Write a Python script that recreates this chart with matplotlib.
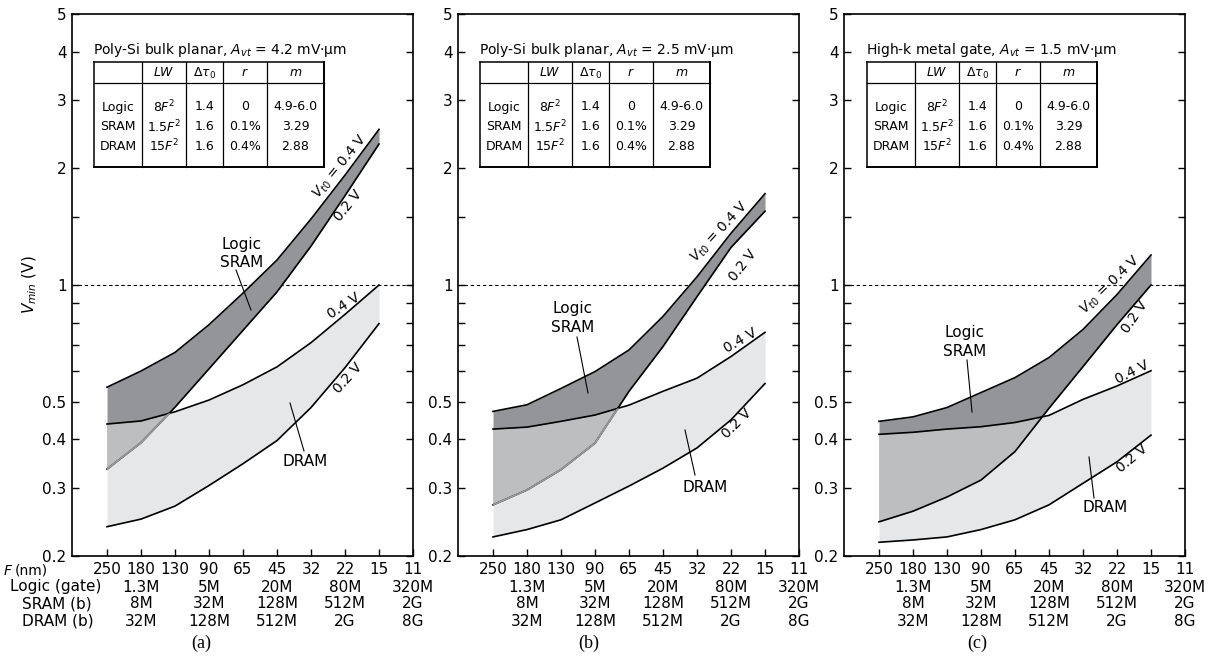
import numpy as np
import matplotlib
matplotlib.use("Agg")
import matplotlib.pyplot as plt
import matplotlib.transforms as mtransforms
from matplotlib.lines import Line2D
from matplotlib.ticker import FixedLocator, NullFormatter

W, H = 1208, 667

# x axis: feature size and the gate / bit counts printed under it
feature_nm = ["250", "180", "130", "90", "65", "45", "32", "22", "15", "11"]
logic_gates = ["1.3M", "5M", "20M", "80M", "320M"]
sram_bits = ["8M", "32M", "128M", "512M", "2G"]
dram_bits = ["32M", "128M", "512M", "2G", "8G"]
count_pos = [1, 3, 5, 7, 9]
curve_pos = [0, 1, 2, 3, 4, 5, 6, 7, 8]   # 250 nm ... 15 nm

# Vmin (V), Vt0 = 0.4 V and 0.2 V edges of each band
# (a) poly-Si bulk planar, Avt = 4.2
a_logic_04 = [0.545, 0.600, 0.670, 0.790, 0.953, 1.16, 1.48, 1.92, 2.52]
a_logic_02 = [0.335, 0.392, 0.484, 0.608, 0.764, 0.960, 1.26, 1.70, 2.31]
a_dram_04 = [0.438, 0.446, 0.471, 0.505, 0.553, 0.615, 0.710, 0.840, 1.00]
a_dram_02 = [0.238, 0.249, 0.269, 0.304, 0.346, 0.397, 0.483, 0.612, 0.795]
# (b) poly-Si bulk planar, Avt = 2.5
b_logic_04 = [0.472, 0.491, 0.541, 0.598, 0.680, 0.830, 1.05, 1.36, 1.72]
b_logic_02 = [0.271, 0.296, 0.334, 0.391, 0.532, 0.694, 0.933, 1.25, 1.55]
b_dram_04 = [0.425, 0.430, 0.445, 0.462, 0.490, 0.532, 0.575, 0.654, 0.755]
b_dram_02 = [0.224, 0.234, 0.248, 0.274, 0.303, 0.337, 0.380, 0.449, 0.557]
# (c) high-k metal gate, Avt = 1.5
c_logic_04 = [0.445, 0.457, 0.483, 0.528, 0.577, 0.650, 0.768, 0.945, 1.195]
c_logic_02 = [0.245, 0.261, 0.284, 0.314, 0.372, 0.481, 0.616, 0.790, 1.00]
c_dram_04 = [0.412, 0.417, 0.425, 0.431, 0.442, 0.461, 0.507, 0.549, 0.601]
c_dram_02 = [0.217, 0.220, 0.224, 0.234, 0.248, 0.271, 0.308, 0.350, 0.410]

# table contents
tbl_header = ["", "$LW$", r"$\Delta\tau_0$", "$r$", "$m$"]
tbl_rows = [["Logic", "8$F^2$", "1.4", "0", "4.9-6.0"],
            ["SRAM", "1.5$F^2$", "1.6", "0.1%", "3.29"],
            ["DRAM", "15$F^2$", "1.6", "0.4%", "2.88"]]
titles = ["Poly-Si bulk planar, $A_{vt}$ = 4.2 mV\u00b7\u03bcm",
          "Poly-Si bulk planar, $A_{vt}$ = 2.5 mV\u00b7\u03bcm",
          "High-k metal gate, $A_{vt}$ = 1.5 mV\u00b7\u03bcm"]
captions = ["(a)", "(b)", "(c)"]

DARK = "#939598"
MID = "#bcbec0"
LIGHT = "#e6e7e8"
GREY = "#9a9a9a"
LW = 1.2

fig = plt.figure(figsize=(W / 100, H / 100), dpi=100)


def fx(x):
    return x / W


def fy(y):
    return 1 - y / H


def fline(x1, y1, x2, y2, lw=0.8):
    fig.add_artist(Line2D([fx(x1), fx(x2)], [fy(y1), fy(y2)],
                          transform=fig.transFigure, color="k", lw=lw))


def ftext(x, y, s, **kw):
    kw.setdefault("ha", "center")
    fig.text(fx(x), fy(y), s, va="center", **kw)


def draw_panel(ax, l04, l02, d04, d02, grey_overlap):
    x = np.array(curve_pos, float)
    l04, l02, d04, d02 = map(np.array, (l04, l02, d04, d02))
    ax.axhline(1.0, color="k", lw=0.8, ls=(0, (3, 2.5)), zorder=0.5)
    ax.fill_between(x, d02, d04, color=LIGHT, lw=0, zorder=1)
    ax.fill_between(x, l02, l04, color=DARK, lw=0, zorder=1.1)
    ax.fill_between(x, l02, d04, where=l02 < d04, interpolate=True,
                    color=MID, lw=0, zorder=1.2)
    for v in (l04, d04, d02, l02):
        ax.plot(x, v, color="k", lw=LW, zorder=2)
    if grey_overlap:
        clip = ax.fill_between(x, 0.05, d04, color="none", lw=0)
        g, = ax.plot(x, l02, color=GREY, lw=LW + 0.1, zorder=2.1)
        g.set_clip_path(clip.get_paths()[0], ax.transData)

    ax.set_yscale("log")
    ax.set_ylim(0.2, 5)
    ax.set_xlim(-1.03, 9)
    ax.yaxis.set_major_locator(FixedLocator([0.2, 0.3, 0.4, 0.5, 1, 2, 3, 4, 5]))
    ax.set_yticklabels(["0.2", "0.3", "0.4", "0.5", "1", "2", "3", "4", "5"])
    ax.yaxis.set_minor_locator(FixedLocator([0.6, 0.7, 0.8, 0.9, 1.5]))
    ax.yaxis.set_minor_formatter(NullFormatter())
    ax.set_xticks(range(len(feature_nm)))
    ax.set_xticklabels(feature_nm)
    ax.tick_params(which="both", direction="in", length=5, width=1.0,
                   labelsize=11, pad=4, right=True, top=False)
    for sp in ax.spines.values():
        sp.set_linewidth(1.2)

    trans = mtransforms.blended_transform_factory(ax.transData, fig.transFigure)
    for row, ypx in ((logic_gates, 587), (sram_bits, 604), (dram_bits, 621)):
        for p, s in zip(count_pos, row):
            ax.text(p, fy(ypx), s, transform=trans, ha="center", va="center",
                    fontsize=11, clip_on=False)


def draw_table(x0, title):
    cols = [0, 48, 92, 129, 173, 230]
    top, mid, bot = 62, 83, 167
    fig.text(fx(x0 - 1), fy(50), title, ha="left", va="center", fontsize=10)
    xs = [x0 + c for c in cols]
    # frame
    fline(xs[0], top, xs[-1], top, 1.1)
    fline(xs[0], bot, xs[-1], bot, 1.4)
    fline(xs[0], top, xs[0], bot, 1.1)
    fline(xs[-1], top, xs[-1], bot, 1.4)
    fline(xs[0], mid, xs[-1], mid, 0.9)
    for xv in xs[1:-1]:
        fline(xv, top, xv, bot, 0.9)
    centers = [(xs[i] + xs[i + 1]) / 2 for i in range(len(xs) - 1)]
    for c, s in zip(centers, tbl_header):
        if s:
            ftext(c, 73, s, fontsize=9)
    for ry, row in zip((107, 127, 146), tbl_rows):
        for c, s in zip(centers, row):
            ftext(c, ry, s, fontsize=9)


panels = [
    (72, 94, (a_logic_04, a_logic_02, a_dram_04, a_dram_02), True),
    (458, 480, (b_logic_04, b_logic_02, b_dram_04, b_dram_02), True),
    (844, 867, (c_logic_04, c_logic_02, c_dram_04, c_dram_02), False),
]
axes = []
for i, (left, tx, series, grey) in enumerate(panels):
    ax = fig.add_axes([fx(left), fy(556), 341 / W, 542 / H])
    draw_panel(ax, *series, grey_overlap=grey)
    draw_table(tx, titles[i])
    axes.append(ax)

axes[0].set_ylabel("$V_{min}$ (V)", fontsize=11, labelpad=2)

# row titles under panel (a)
ftext(12, 571, "F", fontsize=10, style="italic", ha="right")
ftext(15, 571, "(nm)", fontsize=10, ha="left")
ftext(56, 587, "Logic (gate)", fontsize=11)
ftext(57, 604, "SRAM (b)", fontsize=11)
ftext(58, 621, "DRAM (b)", fontsize=11)

for cx, s in zip((201, 589, 977), captions):
    ftext(cx, 643, s, fontsize=13, family="Liberation Serif")

# curve labels: (x, y, text, rotation)
curve_labels = [
    (340, 166, "$V_{t0}$ = 0.4 V", 51), (348, 206, "0.2 V", 51),
    (344, 306, "0.4 V", 33), (348, 378, "0.2 V", 48),
    (720, 232, "$V_{t0}$ = 0.4 V", 47), (743, 265, "0.2 V", 52),
    (740, 341, "0.4 V", 30), (737, 424, "0.2 V", 45),
    (1110, 285, "$V_{t0}$ = 0.4 V", 44), (1135, 317, "0.2 V", 56),
    (1132, 372, "0.4 V", 27), (1132, 458, "0.2 V", 40),
]
for x, y, s, r in curve_labels:
    ftext(x, y, s, fontsize=10, rotation=r, rotation_mode="anchor")

# band names with leader lines
for (lx, ly), (x1, y1, x2, y2) in (((242, 244), (236, 270, 251, 310)),
                                    ((573, 308), (577, 337, 588, 393)),
                                    ((965, 333), (967, 360, 972, 412))):
    ftext(lx, ly, "Logic", fontsize=11)
    ftext(lx, ly + 19, "SRAM", fontsize=11)
    fline(x1, y1, x2, y2)
for (lx, ly), (x1, y1, x2, y2) in (((305, 461), (290, 403, 304, 451)),
                                    ((705, 487), (685, 430, 695, 475)),
                                    ((1105, 507), (1089, 457, 1094, 498))):
    ftext(lx, ly, "DRAM", fontsize=11)
    fline(x1, y1, x2, y2)

fig.savefig("out.png", dpi=100)
